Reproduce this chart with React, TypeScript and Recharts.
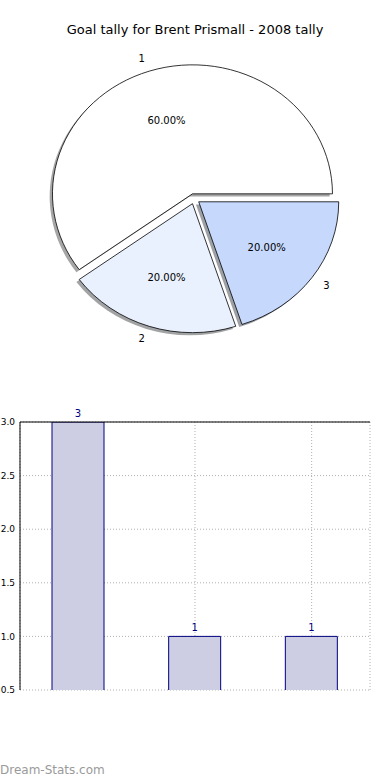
import React from 'react';
import { PieChart, Pie, BarChart, Bar, XAxis, YAxis, CartesianGrid, ReferenceLine, LabelList } from 'recharts';

const TITLE = 'Goal tally for Brent Prismall - 2008 tally';
const WATERMARK = 'Dream-Stats.com';

const sliceNames = ['1', '2', '3'];
const sliceValues = [3, 1, 1];
const sliceColors = ['#ffffff', '#eaf1fe', '#c6d9fd'];

const barCategories = ['1', '2', '3'];
const barValues = [3, 1, 1];
const yTicks = [0.5, 1.0, 1.5, 2.0, 2.5, 3.0];

const pieData = sliceNames.map((n, i) => ({ name: n, value: sliceValues[i], color: sliceColors[i] }));
const barData = barCategories.map((c, i) => ({ name: c, value: barValues[i] }));

const FONT = '"DejaVu Sans", Verdana, sans-serif';
const RADIUS = 140;
const ASPECT = 129 / 140;
const EXPLODE = 0.04;
const SHADOW_DX = -2.8;
const SHADOW_DY = 2.6;
const RAD = Math.PI / 180;

function explodeOffset(r: number, mid: number) {
  return { dx: EXPLODE * r * Math.cos(mid * RAD), dy: -EXPLODE * r * ASPECT * Math.sin(mid * RAD) };
}

function sectorPath(cx: number, cy: number, r: number, a0: number, a1: number) {
  const ry = r * ASPECT;
  const x0 = cx + r * Math.cos(a0 * RAD);
  const y0 = cy - ry * Math.sin(a0 * RAD);
  const x1 = cx + r * Math.cos(a1 * RAD);
  const y1 = cy - ry * Math.sin(a1 * RAD);
  const large = Math.abs(a1 - a0) > 180 ? 1 : 0;
  return `M${cx},${cy} L${x0},${y0} A${r},${ry} 0 ${large} 0 ${x1},${y1} Z`;
}

function shadowColor(hex: string) {
  const h = hex.replace('#', '');
  const r = Math.round(parseInt(h.slice(0, 2), 16) * 0.3);
  const g = Math.round(parseInt(h.slice(2, 4), 16) * 0.3);
  const b = Math.round(parseInt(h.slice(4, 6), 16) * 0.3);
  return `rgb(${r},${g},${b})`;
}

const WedgeShape = (props: any) => {
  const { cx, cy, outerRadius, startAngle, endAngle, midAngle, payload } = props;
  const { dx, dy } = explodeOffset(outerRadius, midAngle);
  return (
    <path
      d={sectorPath(cx + dx, cy + dy, outerRadius, startAngle, endAngle)}
      fill={payload.color}
      stroke="#000"
      strokeWidth={0.8}
      strokeLinejoin="miter"
    />
  );
};

const ShadowShape = (props: any) => {
  const { cx, cy, outerRadius, startAngle, endAngle, midAngle, payload } = props;
  const { dx, dy } = explodeOffset(outerRadius, midAngle);
  return (
    <path
      d={sectorPath(cx + dx + SHADOW_DX, cy + dy + SHADOW_DY, outerRadius, startAngle, endAngle)}
      fill={shadowColor(payload.color)}
      fillOpacity={0.5}
      stroke="none"
    />
  );
};

const renderLabel = (props: any) => {
  const { cx, cy, outerRadius, midAngle, percent, payload, index } = props;
  const { dx, dy } = explodeOffset(outerRadius, midAngle);
  const c = Math.cos(midAngle * RAD);
  const s = Math.sin(midAngle * RAD);
  const ox = cx + dx;
  const oy = cy + dy;
  const lx = ox + 1.1 * outerRadius * c;
  const ly = oy - 1.1 * outerRadius * ASPECT * s;
  const px = ox + 0.6 * outerRadius * c;
  const py = oy - 0.6 * outerRadius * ASPECT * s;
  return (
    <g key={`lbl-${index}`}>
      <text x={lx} y={ly} dy="0.36em" textAnchor={c > 0 ? 'start' : 'end'} fontSize={10} fill="#000" fontFamily={FONT}>
        {payload.name}
      </text>
      <text x={px} y={py} dy="0.36em" textAnchor="middle" fontSize={10} fill="#000" fontFamily={FONT}>
        {(percent * 100).toFixed(2) + '%'}
      </text>
    </g>
  );
};

const BarShape = (props: any) => {
  const { x, y, width, height } = props;
  return (
    <g>
      <rect x={x} y={y} width={width} height={height} fill="#cdcde3" />
      <path d={`M${x},${y + height} L${x},${y} L${x + width},${y} L${x + width},${y + height}`} fill="none" stroke="#000080" strokeWidth={1} />
    </g>
  );
};

export default function App() {
  return (
    <div style={{ position: 'absolute', left: 0, top: 0, width: 390, height: 780, background: '#fff', fontFamily: FONT }}>
      <svg width={390} height={780} style={{ position: 'absolute', left: 0, top: 0 }}>
        <text x={195} y={34} textAnchor="middle" fontSize={13} fill="#000" fontFamily={FONT}>{TITLE}</text>
        <text x={0} y={774} textAnchor="start" fontSize={12} fill="#9a9a9a" fontFamily={FONT}>{WATERMARK}</text>
      </svg>
      <div style={{ position: 'absolute', left: 0, top: 0 }}>
        <PieChart width={390} height={400} margin={{ top: 0, right: 0, bottom: 0, left: 0 }}>
          <Pie
            data={pieData}
            dataKey="value"
            nameKey="name"
            cx={194.2}
            cy={198.75}
            outerRadius={RADIUS}
            startAngle={0}
            endAngle={360}
            shape={ShadowShape}
            isAnimationActive={false}
            label={false}
            labelLine={false}
          />
          <Pie
            data={pieData}
            dataKey="value"
            nameKey="name"
            cx={194.2}
            cy={198.75}
            outerRadius={RADIUS}
            startAngle={0}
            endAngle={360}
            shape={WedgeShape}
            isAnimationActive={false}
            label={renderLabel}
            labelLine={false}
          />
        </PieChart>
      </div>
      <div style={{ position: 'absolute', left: 0, top: 400 }}>
        <BarChart width={390} height={300} data={barData} margin={{ top: 22, right: 20, bottom: 10, left: 0 }}>
          <CartesianGrid yAxisId="left" stroke="#b0b0b0" strokeDasharray="1 2" />
          <XAxis dataKey="name" hide />
          <YAxis
            yAxisId="left"
            domain={[0.5, 3]}
            ticks={yTicks}
            allowDataOverflow
            width={20}
            tickSize={4}
            tickMargin={1}
            tickLine={false}
            axisLine={{ stroke: '#000' }}
            tick={{ fill: '#000', fontSize: 9 }}
            tickFormatter={(v: number) => v.toFixed(1)}
            interval={0}
          />
          <YAxis yAxisId="right" orientation="right" domain={[0.5, 3]} width={0} tick={false} tickLine={false} axisLine={{ stroke: '#000' }} />
          <ReferenceLine yAxisId="left" y={3} stroke="#000" />
          <Bar yAxisId="left" dataKey="value" barSize={52} shape={BarShape} isAnimationActive={false}>
            <LabelList dataKey="value" position="top" offset={5} fill="#000080" fontSize={10} />
          </Bar>
        </BarChart>
      </div>
    </div>
  );
}
